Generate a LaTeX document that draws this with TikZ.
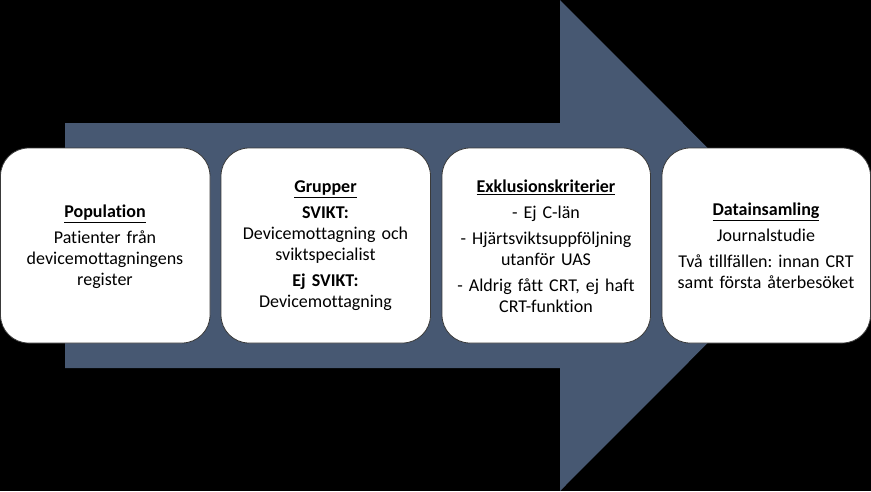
\documentclass[tikz,border=0pt]{standalone}
\usepackage{fontspec}
\setmainfont{Carlito}[Ligatures={NoCommon}]
\frenchspacing
\definecolor{arrowblue}{HTML}{475872}
\definecolor{boxline}{HTML}{3A3A3A}
\tikzset{
  stagebox/.style={fill=white, draw=boxline, line width=0.8pt, rounded corners=28pt},
  stagetext/.style={align=center, font=\fontsize{18}{21}\selectfont, text width=200pt, inner sep=0pt},
}
\newcommand{\hd}[1]{\underline{\textbf{#1}}}
\begin{document}
\begin{tikzpicture}[x=1pt,y=-1pt]
\fill[black] (0,0) rectangle (871,491);
\useasboundingbox (0,0) rectangle (871,491);
% big arrow
\fill[arrowblue] (65,123) -- (560,123) -- (560,0) -- (805,245.5) -- (560,491) -- (560,368) -- (65,368) -- cycle;
% boxes
\draw[stagebox] (0.5,148) rectangle (210,343);
\draw[stagebox] (221,148) rectangle (430.5,343);
\draw[stagebox] (442,148) rectangle (650.5,343);
\draw[stagebox] (662,148) rectangle (870.5,343);
% texts
\node[stagetext] (t1) at (105,247) {\hd{Population}\\[5pt]Patienter från\\devicemottagningens\\register};
\node[stagetext] (t2) at (325.5,246) {\hd{Grupper}\\[5pt]\textbf{SVIKT:}\\Devicemottagning och\\sviktspecialist\\[5pt]\textbf{Ej SVIKT:}\\Devicemottagning};
\node[stagetext] (t3) at (546,246) {\hd{Exklusionskriterier}\\[5pt]- Ej C-län\\[5pt]- Hjärtsviktsuppföljning\\utanför UAS\\[5pt]- Aldrig fått CRT, ej haft\\CRT-funktion};
\node[stagetext] (t4) at (766,246) {\hd{Datainsamling}\\[5pt]Journalstudie\\[5pt]Två tillfällen: innan CRT\\samt första återbesöket};
\end{tikzpicture}
\end{document}
